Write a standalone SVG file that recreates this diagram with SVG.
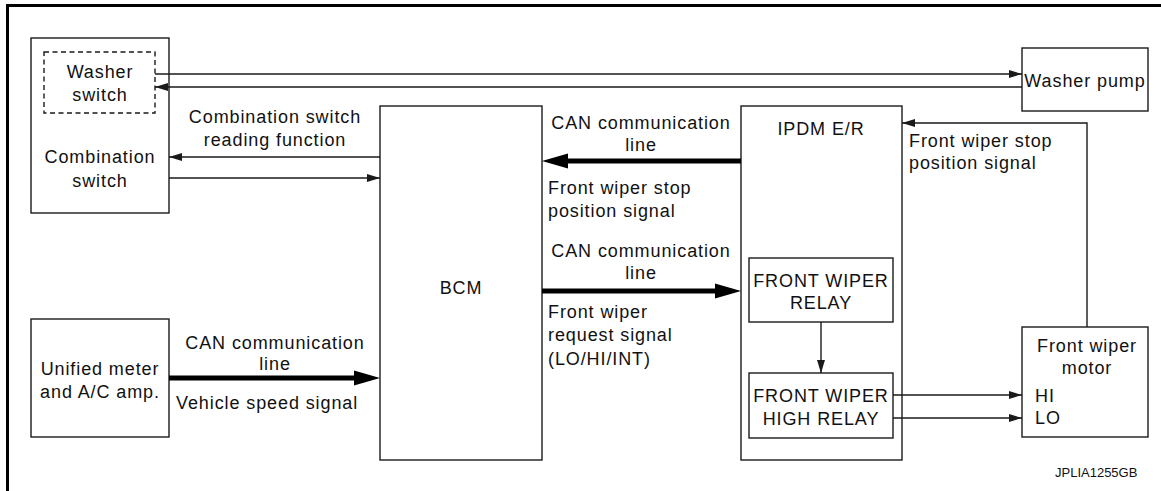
<svg xmlns="http://www.w3.org/2000/svg" width="1161" height="491" viewBox="0 0 1161 491">
  <style>
    .box { fill: #ffffff; stroke: #1a1a1a; stroke-width: 1.4; }
    .dash { fill: none; stroke: #1a1a1a; stroke-width: 1.4; stroke-dasharray: 5 3.5; }
    .t { font-family: "Liberation Sans", Arial, sans-serif; font-size: 18px; letter-spacing: 0.9px; fill: #111; }
    .c { text-anchor: middle; }
    .thin { fill: none; stroke: #1a1a1a; stroke-width: 1.4; }
    .thick { fill: none; stroke: #000; stroke-width: 5; }
    .head { fill: #000; }
    .frame { fill: none; stroke: #000; stroke-width: 3; }
    .id { font-family: "Liberation Sans", Arial, sans-serif; font-size: 13px; fill: #111; }
  </style>
  <defs>
    <marker id="ah" markerUnits="userSpaceOnUse" markerWidth="13" markerHeight="8" refX="13" refY="4" orient="auto">
      <path d="M0,0 L13,4 L0,8 z" fill="#1a1a1a"/>
    </marker>
  </defs>
  <rect width="1161" height="491" fill="#ffffff"/>
  <path class="frame" d="M7.5,491 L7.5,5.5 L1161,5.5"/>

  <g id="combination-switch">
    <rect class="box" x="31" y="38" width="138" height="175"/>
    <rect class="dash" x="44" y="52" width="111" height="61"/>
    <text class="t c" x="100" y="78">Washer</text>
    <text class="t c" x="100" y="101">switch</text>
    <text class="t c" x="100" y="163">Combination</text>
    <text class="t c" x="100" y="187">switch</text>
  </g>

  <g id="washer-pump">
    <rect class="box" x="1022" y="48" width="126" height="63"/>
    <text class="t c" x="1085" y="87">Washer pump</text>
  </g>

  <g id="unified-meter">
    <rect class="box" x="31" y="319" width="138" height="118"/>
    <text class="t c" x="100" y="375">Unified meter</text>
    <text class="t c" x="100" y="398">and A/C amp.</text>
  </g>

  <g id="bcm">
    <rect class="box" x="380" y="106" width="162" height="354"/>
    <text class="t c" x="461" y="294">BCM</text>
  </g>

  <g id="ipdm">
    <rect class="box" x="741" y="106" width="161" height="354"/>
    <text class="t c" x="821" y="135">IPDM E/R</text>
  </g>

  <g id="front-wiper-relay">
    <rect class="box" x="749" y="258" width="144" height="64"/>
    <text class="t c" x="821" y="287">FRONT WIPER</text>
    <text class="t c" x="821" y="309">RELAY</text>
  </g>

  <g id="front-wiper-high-relay">
    <rect class="box" x="749" y="373" width="144" height="65"/>
    <text class="t c" x="821" y="402">FRONT WIPER</text>
    <text class="t c" x="821" y="425">HIGH RELAY</text>
  </g>

  <g id="front-wiper-motor">
    <rect class="box" x="1022" y="327" width="126" height="110"/>
    <text class="t c" x="1087" y="352">Front wiper</text>
    <text class="t c" x="1087" y="374">motor</text>
    <text class="t" x="1035" y="402">HI</text>
    <text class="t" x="1035" y="424">LO</text>
  </g>

  <g id="connectors">
    <line class="thin" x1="155" y1="74" x2="1022" y2="74" marker-end="url(#ah)"/>
    <line class="thin" x1="1022" y1="87" x2="155" y2="87" marker-end="url(#ah)"/>
    <line class="thin" x1="380" y1="157" x2="169" y2="157" marker-end="url(#ah)"/>
    <line class="thin" x1="169" y1="178" x2="380" y2="178" marker-end="url(#ah)"/>
    <line class="thick" x1="741" y1="161" x2="560" y2="161"/>
    <path class="head" d="M542,161 L568,153.5 L568,168.5 z"/>
    <line class="thick" x1="542" y1="291" x2="722" y2="291"/>
    <path class="head" d="M741,291 L715,283.5 L715,298.5 z"/>
    <line class="thick" x1="169" y1="378" x2="362" y2="378"/>
    <path class="head" d="M380,378 L354,370.5 L354,385.5 z"/>
    <polyline class="thin" points="1087,327 1087,123 902,123" marker-end="url(#ah)"/>
    <line class="thin" x1="821" y1="322" x2="821" y2="373" marker-end="url(#ah)"/>
    <line class="thin" x1="893" y1="395" x2="1022" y2="395" marker-end="url(#ah)"/>
    <line class="thin" x1="893" y1="418" x2="1022" y2="418" marker-end="url(#ah)"/>
  </g>

  <g id="labels">
    <text class="t c" x="275" y="123">Combination switch</text>
    <text class="t c" x="275" y="146">reading function</text>
    <text class="t c" x="641" y="129">CAN communication</text>
    <text class="t c" x="641" y="151">line</text>
    <text class="t" x="548" y="194">Front wiper stop</text>
    <text class="t" x="548" y="217">position signal</text>
    <text class="t c" x="641" y="257">CAN communication</text>
    <text class="t c" x="641" y="279">line</text>
    <text class="t" x="548" y="318">Front wiper</text>
    <text class="t" x="548" y="341">request signal</text>
    <text class="t" x="548" y="365">(LO/HI/INT)</text>
    <text class="t" x="909" y="147">Front wiper stop</text>
    <text class="t" x="909" y="169">position signal</text>
    <text class="t c" x="275" y="349">CAN communication</text>
    <text class="t c" x="275" y="370">line</text>
    <text class="t" x="176" y="409">Vehicle speed signal</text>
    <text class="id" x="1055" y="477">JPLIA1255GB</text>
  </g>
</svg>
